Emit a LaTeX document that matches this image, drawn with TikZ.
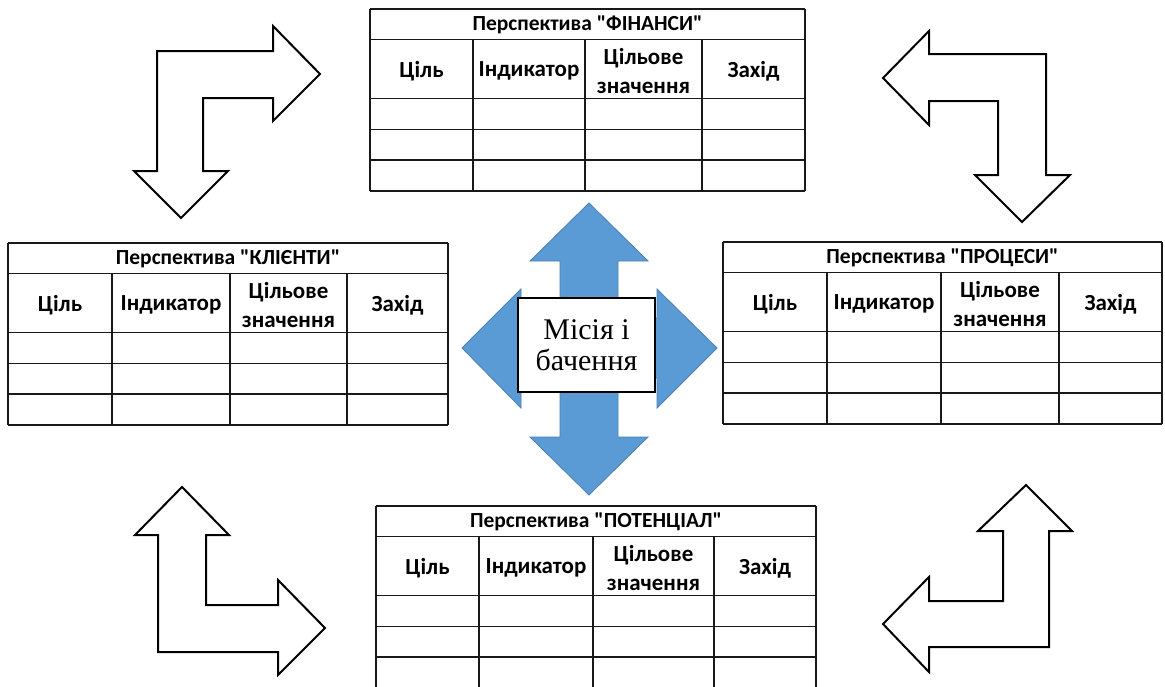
\documentclass[tikz,border=0pt]{standalone}
\usepackage{fontspec}
\setmainfont{Liberation Serif}
\newfontfamily\tabfont{Carlito}
\usepackage{tikz}
\usetikzlibrary{positioning,calc}

\definecolor{missionblue}{HTML}{5B9BD5}
\definecolor{missionedge}{HTML}{4A7FB0}

% one perspective table: name, left, top, three column lines, right, title
\newcommand{\perstable}[8]{%
  \foreach \dy in {0,30.5,89.5,120.5,151,182}
    \draw[tabline] (#2,#3+\dy) -- (#7,#3+\dy);
  \draw[tabline] (#2,#3) -- (#2,#3+182);
  \draw[tabline] (#7,#3) -- (#7,#3+182);
  \foreach \cx in {#4,#5,#6}
    \draw[tabline] (\cx,#3+30.5) -- (\cx,#3+182);
  \node[tabtext, font=\tabfont\bfseries\fontsize{21.5}{26}\selectfont]
    (#1-title) at ({(#2+#7)/2},{#3+16}) {#8};
  \node[tabtext] (#1-goal) at ({(#2+#4)/2},{#3+62}) {Ціль};
  \node[tabtext] (#1-ind) at ({(#4+#5)/2},{#3+62}) {Індикатор};
  \node[tabtext] (#1-val) at ({(#5+#6)/2},{#3+62}) {Цільове\\значення};
  \node[tabtext] (#1-act) at ({(#6+#7)/2},{#3+62}) {Захід};
}

\begin{document}
\begin{tikzpicture}[x=1pt, y=-1pt,
    tabline/.style={line width=1.6pt, draw=black!90},
    tabtext/.style={inner sep=0pt, align=center,
      font=\tabfont\bfseries\fontsize{23}{29}\selectfont},
    bentarrow/.style={line width=2pt, draw=black, fill=white},
    bluearrow/.style={fill=missionblue, draw=missionedge, line width=0.8pt}]
    \useasboundingbox (0,0) rectangle (1165,686);

    % tables
    \perstable{fin}{370}{9}{473}{585}{702}{805}{Перспектива "ФІНАНСИ"}
    \perstable{cli}{8}{243}{112}{230}{347}{448}{Перспектива "КЛІЄНТИ"}
    \perstable{proc}{723}{242}{827}{941}{1059}{1162}{Перспектива "ПРОЦЕСИ"}
    \perstable{pot}{376}{506}{479}{593}{714}{816}{Перспектива "ПОТЕНЦІАЛ"}

    % bent arrows in the corners
    \draw[bentarrow] (320,74) -- (273,26) -- (273,51) -- (157,51) -- (157,171)
      -- (134,171) -- (181,218) -- (228,171) -- (203,171) -- (203,98)
      -- (273,98) -- (273,121) -- cycle;
    \draw[bentarrow] (883,78) -- (929,31) -- (929,54) -- (1046,54) -- (1046,175)
      -- (1070,175) -- (1022,222) -- (975,175) -- (998,175) -- (998,101)
      -- (929,101) -- (929,125) -- cycle;
    \draw[bentarrow] (182,487) -- (229,535) -- (206,535) -- (206,605) -- (278,605)
      -- (278,580) -- (325,628) -- (278,675) -- (278,652) -- (158,652)
      -- (158,535) -- (135,535) -- cycle;
    \draw[bentarrow] (1026,485) -- (1072,531) -- (1049,531) -- (1049,647) -- (929,647)
      -- (929,672) -- (883,624) -- (929,577) -- (929,601) -- (1003,601)
      -- (1003,531) -- (978,531) -- cycle;

    % four-way arrow behind the centre
    \draw[bluearrow] (462,348) -- (521,289) -- (521,318) -- (657,318) -- (657,289)
      -- (717,348) -- (657,408) -- (657,378) -- (521,378) -- (521,408) -- cycle;
    \draw[bluearrow] (589,203) -- (648,261) -- (618,261) -- (618,437) -- (648,437)
      -- (589,495) -- (530,437) -- (560,437) -- (560,261) -- (530,261) -- cycle;

    \node[draw, line width=2pt, fill=white, minimum width=137pt, minimum height=94pt,
      align=center, inner sep=0pt, font=\fontsize{30}{31}\selectfont]
      (mission) at (586.5,345) {Місія і\\бачення};
\end{tikzpicture}
\end{document}
